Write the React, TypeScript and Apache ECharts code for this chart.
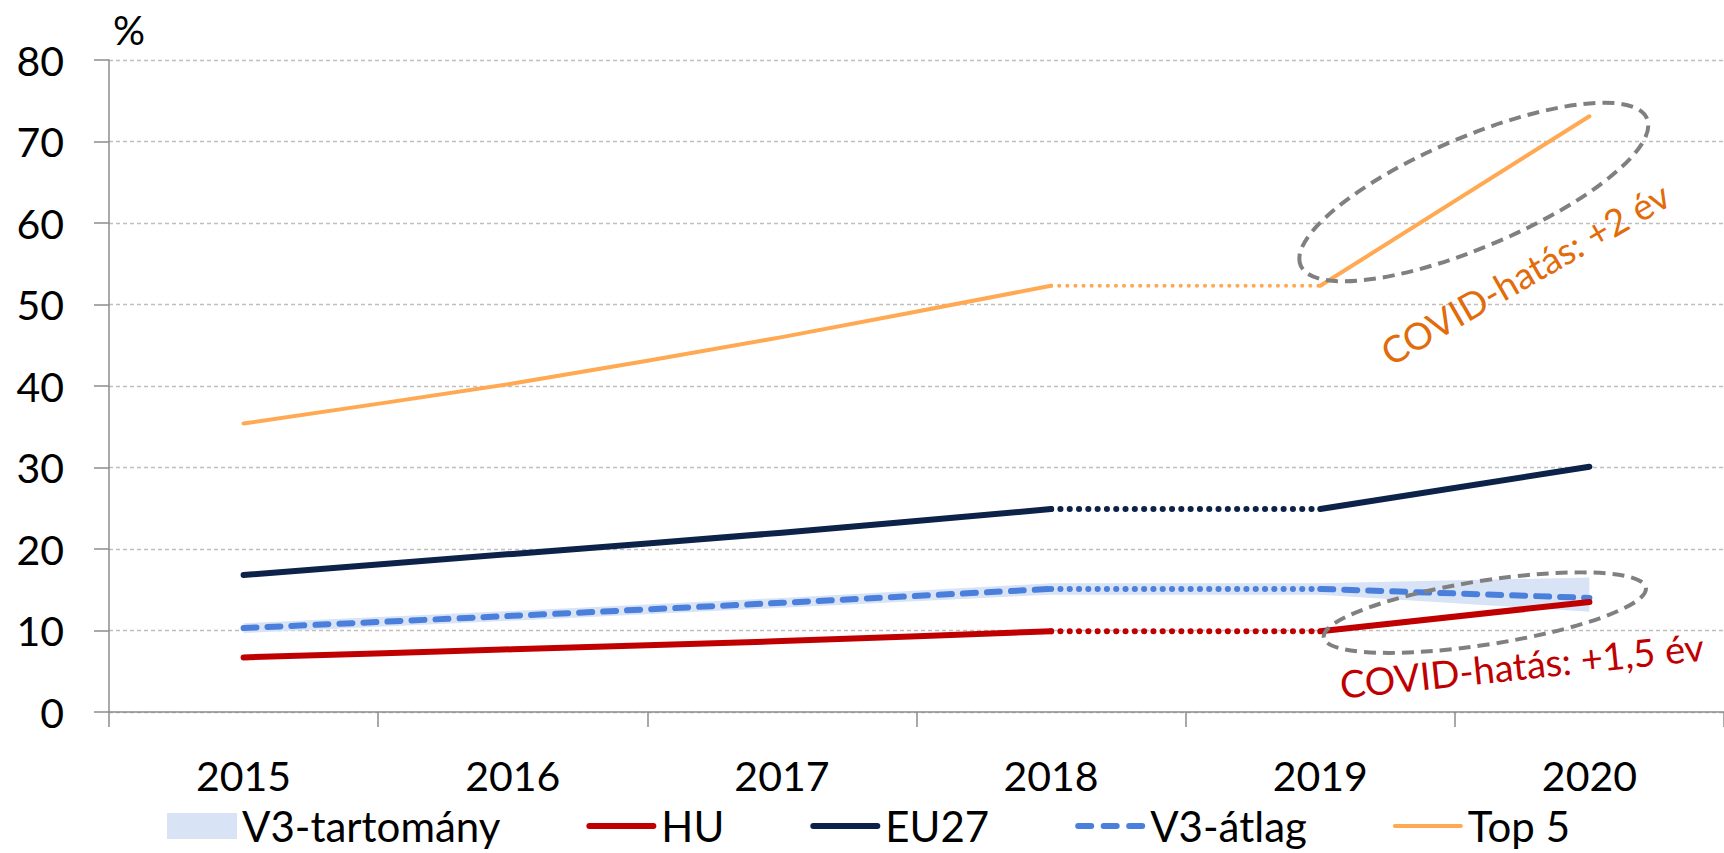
import React, { useEffect, useRef } from 'react';
import * as echarts from 'echarts';

const years = ['2015', '2016', '2017', '2018', '2019', '2020'];
const huValues = [6.7, 7.7, 8.7, 9.9, 9.9, 13.5];
const eu27Values = [16.8, 19.4, 22.0, 24.9, 24.9, 30.1];
const v3AvgValues = [10.3, 11.8, 13.4, 15.1, 15.1, 14.0];
const top5Values = [35.4, 40.3, 46.0, 52.3, 52.3, 73.1];
const v3LowValues = [9.7, 11.2, 12.8, 14.4, 14.4, 12.3];
const v3HighValues = [10.9, 12.4, 14.0, 15.8, 15.8, 16.5];
const yMin = 0;
const yMax = 80;
const yInterval = 10;
const legendNames = ['V3-tartomány', 'HU', 'EU27', 'V3-átlag', 'Top 5'];
const covidTop5Label = 'COVID-hatás: +2 év';
const covidHuLabel = 'COVID-hatás: +1,5 év';

const FONT = 'Lato, Calibri, Carlito, sans-serif';
const C_HU = '#C00000';
const C_EU = '#0D2249';
const C_V3 = '#4A7FDC';
const C_TOP = '#FFA953';
const C_BAND = '#D8E3F6';

// legend icon shapes (70 wide)
const ICON_LINE = 'path://M3,0 L67,0 A3,3 0 0 1 67,6 L3,6 A3,3 0 0 1 3,0 Z';
const ICON_THIN = 'path://M2,0 L68,0 A2,2 0 0 1 68,4 L2,4 A2,2 0 0 1 2,0 Z';
const ICON_DASH =
  'path://M3,0 L16,0 A3,3 0 0 1 16,6 L3,6 A3,3 0 0 1 3,0 Z ' +
  'M28.5,0 L41.5,0 A3,3 0 0 1 41.5,6 L28.5,6 A3,3 0 0 1 28.5,0 Z ' +
  'M54,0 L67,0 A3,3 0 0 1 67,6 L54,6 A3,3 0 0 1 54,0 Z';

const seg = (vals: number[], from: number, to: number) =>
  vals.map((v, i) => (i >= from && i <= to ? v : null));

function lineSeries(name: string, vals: number[], color: string, width: number, solidType: any, dotGap: number, smooth: number) {
  const base = {
    name,
    type: 'line',
    symbol: 'none',
    color,
    connectNulls: false,
  };
  return [
    { ...base, data: seg(vals, 0, 3), smooth, lineStyle: { color, width, type: solidType, cap: 'round', join: 'round' } },
    { ...base, data: seg(vals, 3, 4), lineStyle: { color, width, type: [0.1, dotGap], cap: 'round' } },
    { ...base, data: seg(vals, 4, 5), lineStyle: { color, width, type: solidType, cap: 'round', join: 'round' } },
  ];
}

export default function App() {
  const ref = useRef<HTMLDivElement>(null);
  useEffect(() => {
    const chart = echarts.init(ref.current!, null, { renderer: 'svg' });
    const bandDiff = v3HighValues.map((v, i) => +(v - v3LowValues[i]).toFixed(2));
    const iconStyle = (color: string) => ({ color, borderWidth: 0, opacity: 1 });
    const option: any = {
      animation: false,
      backgroundColor: '#fff',
      grid: { left: 109, top: 60, width: 1630, height: 652, containLabel: false },
      legend: {
        data: [
          { name: legendNames[0], icon: 'rect', itemStyle: iconStyle(C_BAND) },
          { name: legendNames[1], icon: ICON_LINE, itemStyle: iconStyle(C_HU) },
          { name: legendNames[2], icon: ICON_LINE, itemStyle: iconStyle(C_EU) },
          { name: legendNames[3], icon: ICON_DASH, itemStyle: iconStyle(C_V3) },
          { name: legendNames[4], icon: ICON_THIN, itemStyle: iconStyle(C_TOP) },
        ],
        left: 167,
        top: 805,
        padding: 0,
        itemWidth: 70,
        itemHeight: 26,
        itemGap: 86,
        symbolKeepAspect: true,
        selectedMode: false,
        textStyle: { fontFamily: FONT, fontSize: 42, lineHeight: 42, color: '#000' },
      },
      xAxis: {
        type: 'category',
        data: years,
        boundaryGap: true,
        axisLine: { show: true, lineStyle: { color: '#8C8C8C', width: 1.5 } },
        axisTick: { show: true, length: 15, lineStyle: { color: '#8C8C8C', width: 1.5 } },
        axisLabel: { fontFamily: FONT, fontSize: 41, color: '#000', margin: 43 },
        splitLine: { show: false },
      },
      yAxis: {
        type: 'value',
        min: yMin,
        max: yMax,
        interval: yInterval,
        name: '%',
        nameLocation: 'end',
        nameGap: 10,
        nameTextStyle: { fontFamily: FONT, fontSize: 40, color: '#000', align: 'left', padding: [0, 0, 0, 4] },
        axisLine: { show: true, lineStyle: { color: '#8C8C8C', width: 1.5 } },
        axisTick: { show: true, length: 15, lineStyle: { color: '#8C8C8C', width: 1.5 } },
        axisLabel: { fontFamily: FONT, fontSize: 41, color: '#000', margin: 45 },
        splitLine: { show: true, lineStyle: { color: '#BFBFBF', width: 1.3, type: [4, 3] } },
      },
      series: [
        {
          name: '__low',
          type: 'line',
          stack: 'band',
          symbol: 'none',
          data: v3LowValues,
          lineStyle: { width: 0, opacity: 0 },
          silent: true,
          z: 1,
        },
        {
          name: legendNames[0],
          type: 'line',
          stack: 'band',
          symbol: 'none',
          color: C_BAND,
          data: bandDiff,
          lineStyle: { width: 0, opacity: 0 },
          areaStyle: { color: C_BAND, opacity: 1 },
          silent: true,
          z: 1,
        },
        ...lineSeries(legendNames[4], top5Values, C_TOP, 4, 'solid', 8, 0.2),
        ...lineSeries(legendNames[2], eu27Values, C_EU, 6, 'solid', 9.2, 0.2),
        ...lineSeries(legendNames[3], v3AvgValues, C_V3, 6, [13, 11], 9.2, 0.2),
        ...lineSeries(legendNames[1], huValues, C_HU, 6, 'solid', 9.2, 0.2),
      ],
    };
    chart.setOption(option);

    const px = (i: number, v: number) =>
      chart.convertToPixel({ xAxisIndex: 0, yAxisIndex: 0 }, [i, v]) as number[];
    const t19 = px(4, top5Values[4]);
    const t20 = px(5, top5Values[5]);
    const h19 = px(4, huValues[4]);
    const h20 = px(5, huValues[5]);
    const tm = [(t19[0] + t20[0]) / 2, (t19[1] + t20[1]) / 2];
    const hm = [(h19[0] + h20[0]) / 2, (h19[1] + h20[1]) / 2];
    const deg = Math.PI / 180;
    const ellipseStyle = { fill: 'none', stroke: '#808080', lineWidth: 4, lineDash: [12, 7] };

    chart.setOption({
      graphic: [
        {
          type: 'ellipse',
          x: tm[0] + 19,
          y: tm[1] - 9,
          rotation: 23 * deg,
          shape: { cx: 0, cy: 0, rx: 188, ry: 55 },
          style: ellipseStyle,
          z: 100,
          silent: true,
        },
        {
          type: 'ellipse',
          x: hm[0] + 30,
          y: hm[1] - 4,
          rotation: 8.8 * deg,
          shape: { cx: 0, cy: 0, rx: 163, ry: 32 },
          style: ellipseStyle,
          z: 100,
          silent: true,
        },
        {
          type: 'text',
          x: tm[0] + 70,
          y: tm[1] + 72,
          rotation: 30 * deg,
          style: {
            text: covidTop5Label,
            fill: '#E26B0A',
            font: `37px ${FONT}`,
            align: 'center',
            verticalAlign: 'middle',
          },
          z: 100,
        },
        {
          type: 'text',
          x: hm[0] + 67,
          y: hm[1] + 48,
          rotation: 6 * deg,
          style: {
            text: covidHuLabel,
            fill: C_HU,
            font: `38px ${FONT}`,
            align: 'center',
            verticalAlign: 'middle',
          },
          z: 100,
        },
      ],
    });

    return () => chart.dispose();
  }, []);
  return (
    <div
      ref={ref}
      style={{ position: 'fixed', left: 0, top: 0, width: 1724, height: 853, background: '#fff' }}
    />
  );
}
